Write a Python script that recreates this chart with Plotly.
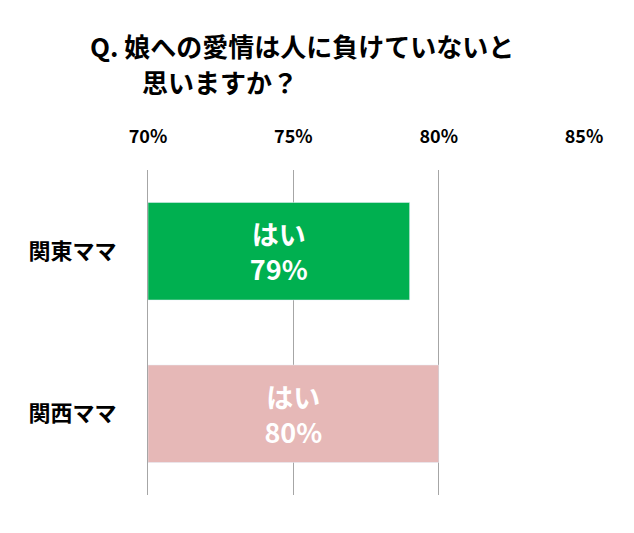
import plotly.graph_objects as go

categories = ["関東ママ", "関西ママ"]
values = [79, 80]
bar_labels = ["はい<br>79%", "はい<br>80%"]
colors = ["#00B050", "#E6B8B7"]
tick_vals = [70, 75, 80, 85]
tick_text = ["70%", "75%", "80%", "85%"]

F = "Noto Sans CJK JP"
L, R, T, B = 140, 58, 162, 46
fig = go.Figure(go.Bar(
    y=categories, x=[v - 70 for v in values], base=70, orientation="h",
    marker=dict(color=colors), width=0.6,
    text=bar_labels, textposition="inside", insidetextanchor="middle",
    textfont=dict(family=F, size=27, color="white", weight="bold"),
    hoverinfo="skip",
))
pw, ph = 634 - L - R, 533 - T - B
def ann(text, px, py):
    return dict(text=text, xref="paper", yref="paper", xanchor="left", yanchor="middle",
                x=(px - L) / pw, y=(533 - B - py) / ph, showarrow=False,
                font=dict(family=F, size=26, color="black", weight="bold"))
fig.update_layout(
    width=634, height=533, paper_bgcolor="white", plot_bgcolor="white",
    margin=dict(l=L, r=R, t=T, b=B), showlegend=False,
    xaxis=dict(range=[70, 85], side="top", tickvals=tick_vals, ticktext=tick_text,
               showgrid=True, gridcolor="#A6A6A6", gridwidth=1, zeroline=False,
               ticks="", ticklabelstandoff=22,
               tickfont=dict(family=F, size=18, color="black", weight="bold")),
    yaxis=dict(autorange="reversed", showline=True, linecolor="#A6A6A6",
               ticks="", ticklabelstandoff=26,
               tickfont=dict(family=F, size=22, color="black", weight="bold")),
    annotations=[ann("Q. 娘への愛情は人に負けていないと", 80, 38),
                 ann("思いますか？", 132, 73)],
)
fig.write_html("out.html")
